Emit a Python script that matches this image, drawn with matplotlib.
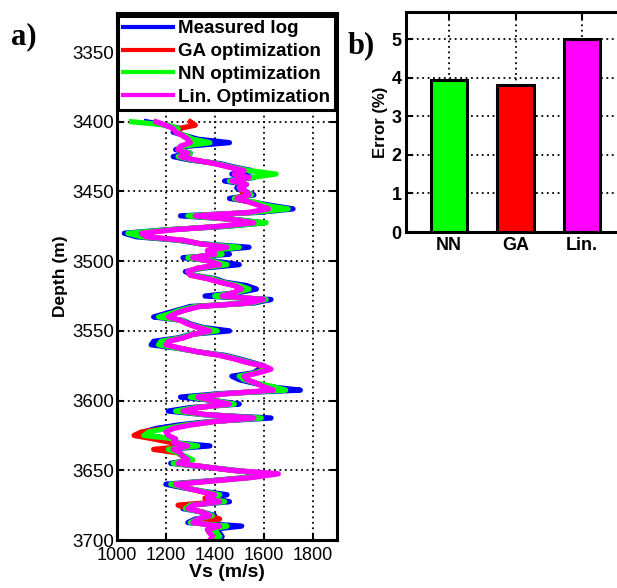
import numpy as np
import matplotlib
matplotlib.use('Agg')
import matplotlib.pyplot as plt

plt.rcParams['font.family'] = ['Liberation Sans', 'DejaVu Sans']

# depth samples (m), every 2.5 m from 3400 to 3700
depth = np.arange(3400, 3700.01, 2.5)

# Vs (m/s)
vs_measured = [1120, 1200, 1260, 1230, 1280, 1330, 1460, 1290, 1240, 1300,
               1230, 1300, 1420, 1480, 1550, 1470, 1560, 1440, 1530, 1490,
               1520, 1560, 1460, 1550, 1630, 1720, 1580, 1260, 1480, 1600,
               1450, 1200, 1030, 1080, 1250, 1340, 1540, 1380, 1460, 1270,
               1400, 1500, 1350, 1280, 1310, 1400, 1440, 1530, 1570, 1500,
               1360, 1630, 1560, 1300, 1250, 1200, 1150, 1270, 1300, 1350,
               1460, 1300, 1250, 1150, 1140, 1250, 1330, 1440, 1500, 1550,
               1600, 1580, 1560, 1470, 1500, 1560, 1620, 1750, 1420, 1260,
               1400, 1500, 1300, 1210, 1350, 1630, 1380, 1250, 1160, 1110,
               1120, 1230, 1220, 1380, 1200, 1250, 1270, 1300, 1220, 1350,
               1480, 1600, 1540, 1380, 1200, 1270, 1350, 1450, 1380, 1460,
               1300, 1270, 1350, 1400, 1320, 1290, 1510, 1380, 1420, 1430,
               1420]

vs_ga = [1300, 1320, 1250, 1250, 1270, 1290, 1310, 1270, 1250, 1290,
         1260, 1320, 1400, 1460, 1520, 1490, 1530, 1510, 1510, 1510,
         1510, 1530, 1480, 1540, 1590, 1630, 1550, 1310, 1470, 1570,
         1420, 1220, 1090, 1110, 1270, 1340, 1460, 1370, 1410, 1300,
         1380, 1430, 1330, 1290, 1300, 1370, 1420, 1480, 1520, 1480,
         1420, 1600, 1540, 1330, 1280, 1230, 1200, 1260, 1290, 1330,
         1390, 1310, 1270, 1200, 1190, 1260, 1330, 1420, 1480, 1530,
         1590, 1600, 1570, 1520, 1530, 1570, 1600, 1650, 1450, 1320,
         1390, 1460, 1330, 1260, 1360, 1570, 1400, 1290, 1200, 1100,
         1070, 1150, 1220, 1300, 1150, 1250, 1270, 1290, 1240, 1360,
         1470, 1630, 1550, 1400, 1230, 1280, 1340, 1400, 1360, 1420,
         1250, 1290, 1350, 1380, 1420, 1310, 1420, 1370, 1380, 1400,
         1390]

vs_nn = [1060, 1210, 1250, 1240, 1280, 1310, 1380, 1270, 1250, 1300,
         1250, 1310, 1410, 1470, 1540, 1650, 1550, 1460, 1530, 1500,
         1530, 1550, 1480, 1560, 1610, 1700, 1560, 1290, 1470, 1610,
         1440, 1210, 1045, 1100, 1260, 1340, 1500, 1380, 1430, 1290,
         1390, 1450, 1340, 1290, 1310, 1390, 1430, 1500, 1540, 1490,
         1400, 1610, 1550, 1320, 1260, 1220, 1170, 1270, 1290, 1340,
         1410, 1300, 1260, 1180, 1170, 1250, 1330, 1430, 1490, 1540,
         1600, 1610, 1570, 1500, 1520, 1570, 1640, 1690, 1440, 1300,
         1400, 1480, 1320, 1240, 1350, 1590, 1390, 1280, 1200, 1130,
         1110, 1240, 1230, 1330, 1210, 1250, 1280, 1310, 1230, 1360,
         1480, 1620, 1550, 1390, 1220, 1280, 1350, 1420, 1380, 1440,
         1300, 1280, 1350, 1390, 1330, 1300, 1450, 1380, 1410, 1420,
         1400]

vs_lin = [1160, 1200, 1230, 1240, 1270, 1290, 1300, 1260, 1250, 1290,
          1260, 1320, 1400, 1460, 1520, 1480, 1540, 1470, 1530, 1500,
          1530, 1540, 1490, 1540, 1580, 1620, 1540, 1320, 1470, 1560,
          1420, 1230, 1100, 1120, 1270, 1340, 1450, 1370, 1400, 1310,
          1380, 1420, 1330, 1290, 1300, 1370, 1420, 1480, 1510, 1480,
          1430, 1600, 1540, 1340, 1280, 1240, 1210, 1260, 1290, 1330,
          1380, 1310, 1270, 1210, 1200, 1260, 1330, 1420, 1480, 1530,
          1600, 1630, 1580, 1520, 1530, 1570, 1600, 1640, 1450, 1330,
          1390, 1460, 1330, 1270, 1360, 1560, 1400, 1300, 1230, 1200,
          1210, 1240, 1230, 1290, 1230, 1260, 1270, 1290, 1250, 1360,
          1470, 1660, 1560, 1400, 1240, 1280, 1340, 1400, 1370, 1420,
          1310, 1290, 1350, 1380, 1330, 1310, 1420, 1370, 1380, 1390,
          1380]

# error bar chart
methods = ['NN', 'GA', 'Lin.']
errors = [3.95, 3.8, 5.0]
bar_colors = ['#00ff00', '#ff0000', '#ff00ff']

fig = plt.figure(figsize=(6.17, 5.88), dpi=100)

# ---- a) well log ----
ax1 = fig.add_axes([0.1896, 0.0816, 0.3566, 0.8963])
ax1.plot(vs_measured, depth, color='#0000ff', lw=3.8, label='Measured log')
ax1.plot(vs_ga, depth, color='#ff0000', lw=3.8, label='GA optimization')
ax1.plot(vs_nn, depth, color='#00ff00', lw=3.8, label='NN optimization')
ax1.plot(vs_lin, depth, color='#ff00ff', lw=3.8, label='Lin. Optimization')
ax1.set_xlim(1000, 1900)
ax1.set_ylim(3700, 3322)
ax1.set_xticks([1000, 1200, 1400, 1600, 1800])
ax1.set_yticks(np.arange(3350, 3701, 50))
ax1.grid(True, color='black', linestyle=(0, (1, 2)), linewidth=1.3)
ax1.tick_params(direction='in', top=True, right=True, length=5, width=1.5,
                labelsize=13.5)
ax1.tick_params(axis='x', pad=5, labelsize=13)
ax1.tick_params(axis='y', pad=2)
for s in ax1.spines.values():
    s.set_linewidth(2.2)
ax1.set_xlabel('Vs (m/s)', fontsize=14, fontweight='bold', labelpad=0)
ax1.set_ylabel('Depth (m)', fontsize=12.5, fontweight='bold', labelpad=3)
leg = ax1.legend(loc='upper right', bbox_to_anchor=(0.99, 0.995),
                 prop={'weight': 'bold', 'size': 13.5}, handlelength=2.7,
                 handletextpad=0.25, labelspacing=0.3, borderpad=0.25,
                 borderaxespad=0, fancybox=False, framealpha=1)
leg.get_frame().set_edgecolor('black')
leg.get_frame().set_linewidth(2.2)
for ln in leg.get_lines():
    ln.set_linewidth(3)

# ---- b) error ----
ax2 = fig.add_axes([0.658, 0.6054, 0.355, 0.374])
x = np.arange(1, len(methods) + 1)
ax2.bar(x, errors, width=0.55, color=bar_colors, edgecolor='black',
        linewidth=2.2, zorder=3)
ax2.set_xlim(0.35, 3.65)
ax2.set_ylim(0, 5.7)
ax2.set_xticks(x)
ax2.set_xticklabels(methods)
ax2.set_yticks([0, 1, 2, 3, 4, 5])
ax2.set_axisbelow(True)
ax2.grid(True, color='black', linestyle=(0, (1, 2)), linewidth=1.3)
ax2.tick_params(direction='in', top=True, right=True, length=5, width=1.5,
                labelsize=13)
ax2.tick_params(axis='y', pad=3)
for lab in ax2.get_xticklabels() + ax2.get_yticklabels():
    lab.set_fontweight('bold')
for s in ax2.spines.values():
    s.set_linewidth(2.2)
ax2.set_ylabel('Error (%)', fontsize=12, fontweight='bold', labelpad=3)

fig.text(0.018, 0.925, 'a)', fontsize=22, fontweight='bold',
         family='Liberation Serif')
fig.text(0.563, 0.91, 'b)', fontsize=22, fontweight='bold',
         family='Liberation Serif')

fig.savefig('out.png', dpi=100)
